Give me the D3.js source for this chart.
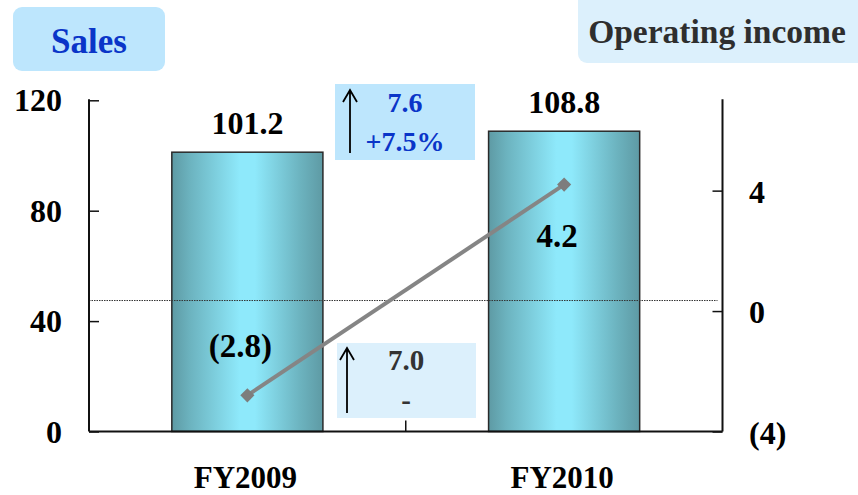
<!DOCTYPE html>
<html>
<head>
<meta charset="utf-8">
<script src="https://cdn.jsdelivr.net/npm/d3@7"></script>
<style>
  html, body { margin: 0; padding: 0; background: #fff; }
  svg { display: block; }
</style>
</head>
<body>
<svg id="chart" width="858" height="495"></svg>
<script>
// Fiscal years on the horizontal axis
const categories = ["FY2009", "FY2010"];
// Net sales (bars, left axis)
const salesValues = [101.2, 108.8];
const salesLabels = ["101.2", "108.8"];
// Operating income (line, right axis)
const incomeValues = [-2.8, 4.2];
const incomeLabels = ["(2.8)", "4.2"];
// Axis ticks
const salesTicks = [0, 40, 80, 120];
const incomeTicks = [-4, 0, 4];
const incomeTickLabels = ["(4)", "0", "4"];
// Year-on-year change callouts
const salesChange = ["7.6", "+7.5%"];
const incomeChange = ["7.0", "-"];
// Dotted guide line (right-axis units)
const guideLine = [0.35];

const FONT = "Liberation Serif, DejaVu Serif";

const svg = d3.select("#chart")
  .attr("font-family", FONT).attr("font-weight", "bold");

const plotLeft = 89, plotRight = 722.5, plotTop = 100.3, plotBottom = 431.5;

const x = d3.scaleBand().domain(categories).range([plotLeft, plotRight]).padding(0);
const ySales = d3.scaleLinear().domain([0, 120]).range([plotBottom, plotTop]);
const yIncome = d3.scaleLinear().domain([-4, 7]).range([plotBottom, plotTop]);
const barW = x.bandwidth() * 0.477;
const cx = d => x(d) + x.bandwidth() / 2;

function label(sel) {
  return sel.attr("font-family", FONT).attr("font-weight", "bold");
}

// Horizontal gradient for the cylinder-like bars
const defs = svg.append("defs");
const grad = defs.append("linearGradient").attr("id", "barGrad")
  .attr("x1", "0%").attr("x2", "100%").attr("y1", "0%").attr("y2", "0%");
[["0%", "#5e9aa4"], ["12%", "#6cb3bf"], ["45%", "#8ee9fb"], ["55%", "#8ee9fb"], ["85%", "#6cb3bf"], ["100%", "#5e9aa4"]]
  .forEach(([o, c]) => grad.append("stop").attr("offset", o).attr("stop-color", c));

// Title boxes
svg.append("rect").attr("x", 13).attr("y", 7).attr("width", 152).attr("height", 64)
  .attr("rx", 9).attr("fill", "#bde6fd");
svg.append("text").call(label).attr("x", 89).attr("y", 53).attr("text-anchor", "middle")
  .attr("font-size", 35).attr("fill", "#0a35c8").text("Sales");

svg.append("rect").attr("x", 578).attr("y", -10).attr("width", 295).attr("height", 73)
  .attr("rx", 9).attr("fill", "#dcf0fc");
svg.append("text").call(label).attr("x", 717).attr("y", 43).attr("text-anchor", "middle")
  .attr("font-size", 33.5).attr("fill", "#2e2e2e").text("Operating income");

// Bars
svg.selectAll(".bar").data(categories).join("rect").attr("class", "bar")
  .attr("x", d => cx(d) - barW / 2)
  .attr("y", (d, i) => ySales(salesValues[i]))
  .attr("width", barW)
  .attr("height", (d, i) => ySales(0) - ySales(salesValues[i]))
  .attr("fill", "url(#barGrad)")
  .attr("stroke", "#2a2a2a").attr("stroke-width", 1.5);

// Dotted guide line across the plot
svg.selectAll(".guide").data(guideLine).join("line").attr("class", "guide")
  .attr("x1", plotLeft).attr("x2", plotRight - 5)
  .attr("y1", d => yIncome(d)).attr("y2", d => yIncome(d))
  .attr("stroke", "#333").attr("stroke-width", 1).attr("stroke-dasharray", "1.5,1");

// Axes
const gL = svg.append("g").attr("transform", `translate(${plotLeft},0)`)
  .call(d3.axisRight(ySales).tickValues(salesTicks).tickSize(10).tickFormat(""));
const gR = svg.append("g").attr("transform", `translate(${plotRight},0)`)
  .call(d3.axisLeft(yIncome).tickValues(incomeTicks).tickSize(10).tickFormat(""));
const gB = svg.append("g").attr("transform", `translate(0,${plotBottom})`)
  .call(d3.axisTop(x).tickValues([categories[1]]).tickSize(11).tickFormat(""));
gB.selectAll(".tick").attr("transform", d => `translate(${x(d)},0)`);
[gL, gR, gB].forEach(g => {
  g.selectAll("path.domain").attr("stroke", "#111").attr("stroke-width", 2);
  g.selectAll(".tick line").attr("stroke", "#111").attr("stroke-width", 1.5);
});
gL.select("path.domain").attr("d", `M0,${plotTop - 1}V${plotBottom}`);
gR.select("path.domain").attr("d", `M0,${plotTop - 1}V${plotBottom}`);
gB.select("path.domain").attr("d", `M${plotLeft},0H${plotRight}`);

// Axis labels
svg.selectAll(".ls").data(salesTicks).join("text").attr("class", "ls").call(label)
  .attr("x", 62).attr("y", d => ySales(d) + 11).attr("text-anchor", "end")
  .attr("font-size", 32).attr("fill", "#000").text(d => d);
svg.selectAll(".li").data(incomeTicks).join("text").attr("class", "li").call(label)
  .attr("x", 749).attr("y", d => yIncome(d) + 12)
  .attr("font-size", 32).attr("fill", "#000").text((d, i) => incomeTickLabels[i]);
svg.selectAll(".lc").data(categories).join("text").attr("class", "lc").call(label)
  .attr("x", d => cx(d) - 2).attr("y", 488).attr("text-anchor", "middle")
  .attr("font-size", 31).attr("fill", "#000").text(d => d);

// Sales value labels
svg.selectAll(".sv").data(categories).join("text").attr("class", "sv").call(label)
  .attr("x", d => cx(d)).attr("y", (d, i) => ySales(salesValues[i]) - 18)
  .attr("text-anchor", "middle").attr("font-size", 32).attr("fill", "#000")
  .text((d, i) => salesLabels[i]);

// Operating income line
const pts = categories.map((c, i) => [cx(c), yIncome(incomeValues[i])]);
svg.append("path").attr("d", d3.line()(pts))
  .attr("fill", "none").attr("stroke", "#858585").attr("stroke-width", 4);
svg.selectAll(".mk").data(pts).join("path").attr("class", "mk")
  .attr("d", d3.symbol(d3.symbolSquare, 100)())
  .attr("transform", d => `translate(${d[0]},${d[1]}) rotate(45)`)
  .attr("fill", "#7d7d7d");

// Operating income value labels
const incLabelOffset = [[-7, -38], [-7, 62]];
svg.selectAll(".iv").data(pts).join("text").attr("class", "iv").call(label)
  .attr("x", (d, i) => d[0] + incLabelOffset[i][0])
  .attr("y", (d, i) => d[1] + incLabelOffset[i][1])
  .attr("text-anchor", "middle").attr("font-size", 33).attr("fill", "#000")
  .text((d, i) => incomeLabels[i]);

// Change callouts
function arrow(xp, y1, y2) {
  svg.append("path")
    .attr("d", `M${xp},${y2}V${y1} M${xp - 7},${y1 + 12}L${xp},${y1}L${xp + 7},${y1 + 12}`)
    .attr("fill", "none").attr("stroke", "#000").attr("stroke-width", 1.8);
}
svg.append("rect").attr("x", 335).attr("y", 84).attr("width", 140).attr("height", 76).attr("fill", "#bde6fd");
arrow(350, 90, 153);
svg.selectAll(".sc").data(salesChange).join("text").attr("class", "sc").call(label)
  .attr("x", 405).attr("y", (d, i) => 112 + i * 39).attr("text-anchor", "middle")
  .attr("font-size", 28).attr("fill", "#0a35c8").text(d => d);

svg.append("rect").attr("x", 337).attr("y", 343).attr("width", 139).attr("height", 75).attr("fill", "#dcf0fc");
arrow(347, 348, 413);
svg.selectAll(".ic").data(incomeChange).join("text").attr("class", "ic").call(label)
  .attr("x", 406).attr("y", (d, i) => 370 + i * 40).attr("text-anchor", "middle")
  .attr("font-size", 29).attr("fill", "#333").text(d => d);
</script>
</body>
</html>
